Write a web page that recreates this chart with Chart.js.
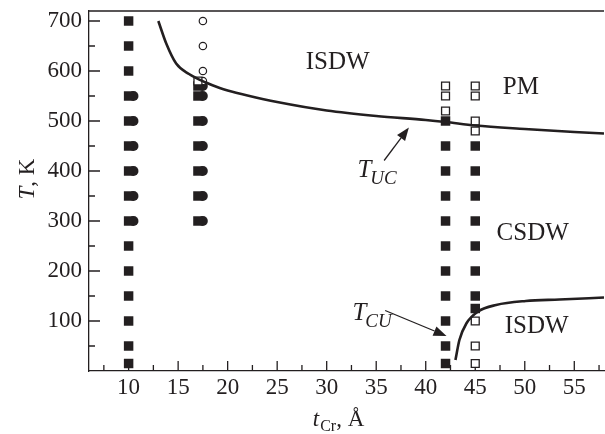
<!DOCTYPE html>
<html>
<head>
<meta charset="utf-8">
<script src="https://cdn.jsdelivr.net/npm/chart.js@4/dist/chart.umd.min.js"></script>
<style>
  html, body { margin: 0; padding: 0; background: #fff; }
  #wrap { width: 605px; height: 434px; position: relative; }
</style>
</head>
<body>
<div id="wrap"><canvas id="phase"></canvas></div>
<script>
// Ejes
const xTicks = [10, 15, 20, 25, 30, 35, 40, 45, 50, 55];
const xMinor = [7.5, 12.5, 17.5, 22.5, 27.5, 32.5, 37.5, 42.5, 47.5, 52.5, 57.5];
const yTicks = [100, 200, 300, 400, 500, 600, 700];
const yMinor = [50, 150, 250, 350, 450, 550, 650];

// Columnas de medidas (x = espesor de Cr, y = T)
const col10Filled = [700, 650, 600, 550, 500, 450, 400, 350, 300, 250, 200, 150, 100, 50, 15];
const col10Dots = [550, 500, 450, 400, 350, 300];
const col17Filled = [570, 550, 500, 450, 400, 350, 300];
const col17Dots = [570, 550, 500, 450, 400, 350, 300];
const col17OpenSq = [580];
const col17OpenCirc = [700, 650, 600, 580];
const col42Filled = [500, 450, 400, 350, 300, 250, 200, 150, 100, 50, 15];
const col42Open = [570, 550, 520];
const col45Filled = [450, 400, 350, 300, 250, 200, 150, 125];
const col45Open = [570, 550, 500, 480, 100, 50, 15];

// Curvas T_UC y T_CU
const tucX = [13, 13.8, 14.8, 16.1, 17.8, 19.2, 20, 22, 25, 30, 35, 40, 42, 45, 50, 55, 58];
const tucY = [700, 655, 615, 594, 577, 566, 561, 551, 538, 521, 510, 502, 498, 491, 484, 478, 475];
const tcuX = [43.0, 43.4, 44.1, 45.3, 47.1, 50.1, 53.5, 58];
const tcuY = [22, 62, 95, 119, 132, 140, 143, 147];

// Etiquetas de fases
const regionLabels = [
  { text: 'ISDW', x: 31.1, y: 617 },
  { text: 'PM', x: 49.6, y: 567 },
  { text: 'CSDW', x: 50.8, y: 276 },
  { text: 'ISDW', x: 51.2, y: 90 }
];

const INK = '#231f20';
const SERIF = '"Liberation Serif", "Times New Roman", serif';

function col(x, values) {
  return values.map(v => ({ x: x, y: v }));
}
function curve(xs, ys) {
  return xs.map((x, i) => ({ x: x, y: ys[i] }));
}

function filledSq(data) {
  return { data, pointStyle: 'rect', pointRadius: 6.7, pointBackgroundColor: INK, pointBorderWidth: 0, order: 2 };
}
function filledDot(data) {
  return { data, pointStyle: 'circle', pointRadius: 4.9, pointBackgroundColor: INK, pointBorderWidth: 0, order: 2 };
}
function openSq(data) {
  return { data, pointStyle: 'rect', pointRadius: 5.6, pointBackgroundColor: '#fff', pointBorderColor: INK, pointBorderWidth: 1.3, order: 1 };
}
function openCirc(data) {
  return { data, pointStyle: 'circle', pointRadius: 3.7, pointBackgroundColor: '#fff', pointBorderColor: INK, pointBorderWidth: 1.2, order: 1 };
}
function line(data) {
  return { data, showLine: true, pointRadius: 0, borderColor: INK, borderWidth: 2.6, cubicInterpolationMode: 'monotone', order: 0 };
}

// Dibuja marcas hacia dentro, borde superior, textos y flechas
const decorPlugin = {
  id: 'decor',
  beforeDatasetsDraw(chart) {
    const { ctx, chartArea: a, scales: { x, y } } = chart;
    ctx.save();
    ctx.strokeStyle = INK;
    ctx.lineWidth = 1.3;
    ctx.beginPath();
    xTicks.forEach(v => { const px = x.getPixelForValue(v); ctx.moveTo(px, a.bottom); ctx.lineTo(px, a.bottom - 10); });
    xMinor.forEach(v => { const px = x.getPixelForValue(v); ctx.moveTo(px, a.bottom); ctx.lineTo(px, a.bottom - 6); });
    yTicks.forEach(v => { const py = y.getPixelForValue(v); ctx.moveTo(a.left, py); ctx.lineTo(a.left + 11, py); });
    yMinor.forEach(v => { const py = y.getPixelForValue(v); ctx.moveTo(a.left, py); ctx.lineTo(a.left + 6, py); });
    ctx.moveTo(a.left, a.top);
    ctx.lineTo(a.right, a.top);
    ctx.stroke();
    ctx.restore();
  },
  afterDraw(chart) {
    const { ctx, chartArea: a, scales: { x, y } } = chart;
    ctx.save();
    ctx.fillStyle = INK;
    ctx.strokeStyle = INK;

    // fases
    ctx.font = '25px ' + SERIF;
    ctx.textAlign = 'center';
    ctx.textBaseline = 'middle';
    regionLabels.forEach(l => ctx.fillText(l.text, x.getPixelForValue(l.x), y.getPixelForValue(l.y)));

    // T con subíndice
    function tLabel(sub, xv, yv) {
      let px = x.getPixelForValue(xv);
      const py = y.getPixelForValue(yv);
      ctx.textAlign = 'left';
      ctx.textBaseline = 'alphabetic';
      ctx.font = 'italic 25px ' + SERIF;
      ctx.fillText('T', px, py);
      px += ctx.measureText('T').width - 1;
      ctx.font = 'italic 19px ' + SERIF;
      ctx.fillText(sub, px, py + 7);
    }
    tLabel('UC', 33.1, 389);
    tLabel('CU', 32.6, 102);

    function arrow(x0, y0, x1, y1) {
      const ax = x.getPixelForValue(x0), ay = y.getPixelForValue(y0);
      const bx = x.getPixelForValue(x1), by = y.getPixelForValue(y1);
      const ang = Math.atan2(by - ay, bx - ax);
      const hl = 13, hw = 5;
      ctx.lineWidth = 1.3;
      ctx.beginPath();
      ctx.moveTo(ax, ay);
      ctx.lineTo(bx - hl * Math.cos(ang), by - hl * Math.sin(ang));
      ctx.stroke();
      ctx.beginPath();
      ctx.moveTo(bx, by);
      ctx.lineTo(bx - hl * Math.cos(ang) + hw * Math.sin(ang), by - hl * Math.sin(ang) - hw * Math.cos(ang));
      ctx.lineTo(bx - hl * Math.cos(ang) - hw * Math.sin(ang), by - hl * Math.sin(ang) + hw * Math.cos(ang));
      ctx.closePath();
      ctx.fill();
    }
    arrow(35.8, 421, 38.3, 487);
    arrow(35.9, 121, 42.1, 70);

    // título eje y: "T, K"
    ctx.save();
    ctx.translate(34, (a.top + a.bottom) / 2 - 12);
    ctx.rotate(-Math.PI / 2);
    ctx.textBaseline = 'alphabetic';
    ctx.textAlign = 'left';
    ctx.font = 'italic 23px ' + SERIF;
    const wT = ctx.measureText('T').width;
    ctx.font = '23px ' + SERIF;
    const wK = ctx.measureText(', K').width;
    let sx = -(wT + wK) / 2;
    ctx.font = 'italic 23px ' + SERIF;
    ctx.fillText('T', sx, 0);
    ctx.font = '23px ' + SERIF;
    ctx.fillText(', K', sx + wT, 0);
    ctx.restore();

    // título eje x: "t_Cr, Å"
    ctx.textAlign = 'left';
    ctx.textBaseline = 'alphabetic';
    ctx.font = 'italic 23px ' + SERIF;
    const w1 = ctx.measureText('t').width;
    ctx.font = '16px ' + SERIF;
    const w2 = ctx.measureText('Cr').width;
    ctx.font = '23px ' + SERIF;
    const w3 = ctx.measureText(', Å').width;
    let bx = 338 - (w1 + w2 + w3) / 2;
    const base = 426;
    ctx.font = 'italic 23px ' + SERIF;
    ctx.fillText('t', bx, base);
    ctx.font = '16px ' + SERIF;
    ctx.fillText('Cr', bx + w1 + 1, base + 5);
    ctx.font = '23px ' + SERIF;
    ctx.fillText(', Å', bx + w1 + w2 + 1, base);
    ctx.restore();
  }
};

new Chart(document.getElementById('phase'), {
  type: 'scatter',
  data: {
    datasets: [
      line(curve(tucX, tucY)),
      line(curve(tcuX, tcuY)),
      filledSq(col(10, col10Filled)),
      filledDot(col(10.5, col10Dots)),
      filledSq(col(17, col17Filled)),
      filledDot(col(17.5, col17Dots)),
      openSq(col(17, col17OpenSq)),
      openCirc(col(17.5, col17OpenCirc)),
      filledSq(col(42, col42Filled)),
      openSq(col(42, col42Open)),
      filledSq(col(45, col45Filled)),
      openSq(col(45, col45Open))
    ]
  },
  options: {
    responsive: true,
    maintainAspectRatio: false,
    animation: false,
    clip: false,
    layout: { autoPadding: false, padding: { top: 11, right: 1, left: 0, bottom: 0 } },
    plugins: { legend: { display: false }, tooltip: { enabled: false } },
    scales: {
      x: {
        type: 'linear',
        min: 6,
        max: 58,
        afterBuildTicks: s => { s.ticks = xTicks.map(v => ({ value: v })); },
        afterFit: s => { s.height = 63; s.paddingLeft = 0; s.paddingRight = 0; },
        grid: { display: false, drawTicks: false },
        border: { display: true, color: INK, width: 1.3 },
        ticks: { color: INK, font: { family: SERIF, size: 23 }, padding: 3, maxRotation: 0, autoSkip: false }
      },
      y: {
        type: 'linear',
        min: 0,
        max: 720,
        afterBuildTicks: s => { s.ticks = yTicks.map(v => ({ value: v })); },
        afterFit: s => { s.width = 89; s.paddingTop = 0; s.paddingBottom = 0; },
        grid: { display: false, drawTicks: false },
        border: { display: true, color: INK, width: 1.3 },
        ticks: { color: INK, font: { family: SERIF, size: 23 }, padding: 7 }
      }
    }
  },
  plugins: [decorPlugin]
});
</script>
</body>
</html>
